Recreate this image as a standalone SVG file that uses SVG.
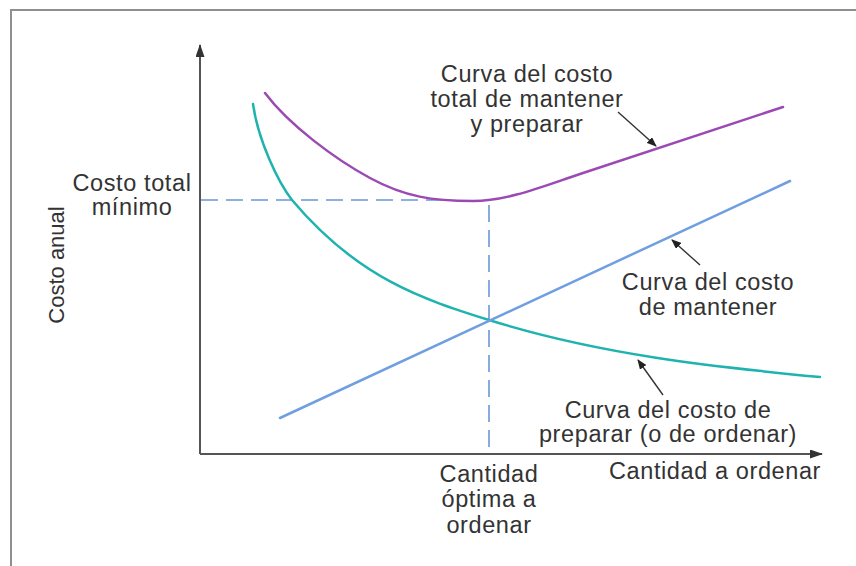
<svg xmlns="http://www.w3.org/2000/svg" width="856" height="566" viewBox="0 0 856 566">
<style>
  .lbl { font-family: "Liberation Sans", Arial, sans-serif; font-size: 23.5px; letter-spacing: 0.6px; fill: #333; text-anchor: middle; }
  .vlbl { font-family: "Liberation Sans", Arial, sans-serif; font-size: 22px; fill: #333; text-anchor: middle; }
  .axis { stroke: #555; stroke-width: 2; fill: none; }
  .curve { fill: none; stroke-width: 2.5; stroke-linecap: round; }
  .dash { fill: none; stroke: #6a97d8; stroke-width: 1.6; stroke-dasharray: 17 8; }
  .ptr { stroke: #333; stroke-width: 1.4; fill: none; }
</style>
<defs>
  <marker id="ah" markerWidth="10" markerHeight="8" refX="9" refY="4" orient="auto" markerUnits="userSpaceOnUse">
    <path d="M0,0 L10,4 L0,8 Z" fill="#222"/>
  </marker>
  <marker id="axh" markerWidth="13" markerHeight="9" refX="12" refY="4.5" orient="auto" markerUnits="userSpaceOnUse">
    <path d="M0,0 L13,4.5 L0,9 Z" fill="#333"/>
  </marker>
</defs>
<rect width="856" height="566" fill="#fff"/>
<g id="frame">
  <path d="M11,566 L11,10 L856,10" fill="none" stroke="#8f8f8f" stroke-width="2"/>
</g>
<g id="axes">
  <path class="axis" d="M200,454 L200,45" marker-end="url(#axh)"/>
  <path class="axis" d="M200,454 L822,454" marker-end="url(#axh)"/>
</g>
<g id="guides">
  <path class="dash" d="M201,200 L448,200"/>
  <path class="dash" d="M489,205 L489,453"/>
</g>
<g id="curva-preparar">
  <path class="curve" stroke="#1fb3b0" d="M253,104 C258,140 278,182 292,200 C358,278.5 423,299.3 489,320 C599,354.4 710,366.5 820,377"/>
</g>
<g id="curva-mantener">
  <path class="curve" stroke="#6f9fe0" d="M280,418 L790,181"/>
</g>
<g id="curva-total">
  <path class="curve" stroke="#9b4ab3" d="M265,93 C289,125 335,159 370,178 C405,197 433,201 473,201 C508,201 545,185.5 580,174 L783,107"/>
</g>
<g id="connectors">
  <path class="ptr" d="M618,112 L656,146" marker-end="url(#ah)"/>
  <path class="ptr" d="M700,265 L672,240" marker-end="url(#ah)"/>
  <path class="ptr" d="M663,395 L638,360" marker-end="url(#ah)"/>
</g>
<g id="label-total">
  <text class="lbl" x="527" y="82">Curva del costo<tspan x="527" dy="25">total de mantener</tspan><tspan x="527" dy="25">y preparar</tspan></text>
</g>
<g id="label-minimo">
  <text class="lbl" x="132" y="191">Costo total<tspan x="132" dy="24">mínimo</tspan></text>
</g>
<g id="label-costo-anual">
  <text class="vlbl" x="0" y="0" transform="translate(64,265) rotate(-90)">Costo anual</text>
</g>
<g id="label-mantener">
  <text class="lbl" x="708" y="290">Curva del costo<tspan x="708" dy="25">de mantener</tspan></text>
</g>
<g id="label-preparar">
  <text class="lbl" x="668" y="418">Curva del costo de<tspan x="668" dy="24">preparar (o de ordenar)</tspan></text>
</g>
<g id="label-cantidad">
  <text class="lbl" x="715" y="479">Cantidad a ordenar</text>
</g>
<g id="label-optima">
  <text class="lbl" x="489" y="482">Cantidad<tspan x="489" dy="25">óptima a</tspan><tspan x="489" dy="26">ordenar</tspan></text>
</g>
</svg>
